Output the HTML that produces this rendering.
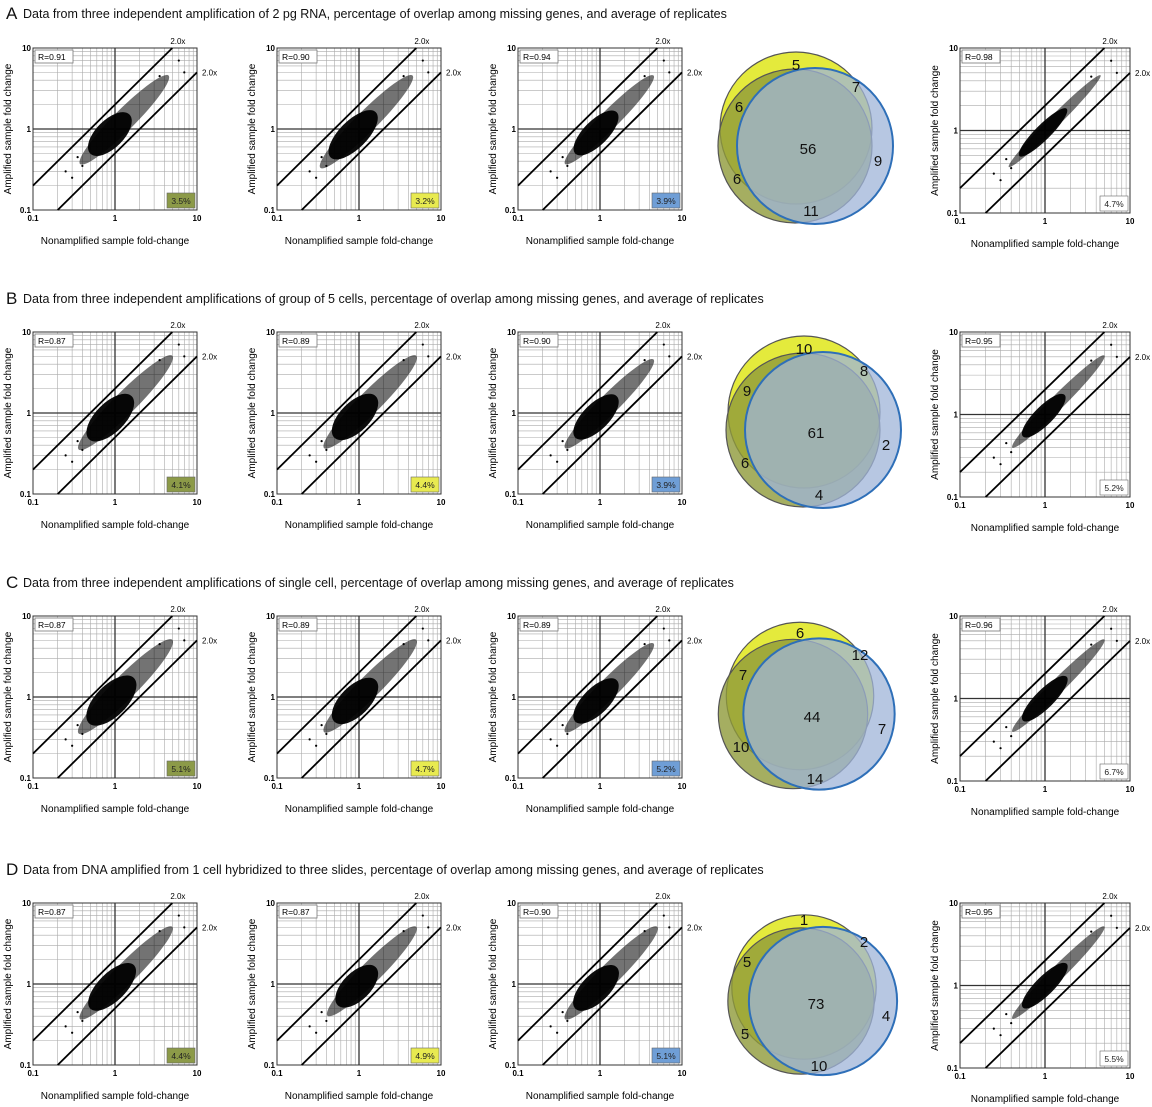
<!DOCTYPE html>
<html><head><meta charset="utf-8"><style>
html,body{margin:0;padding:0;background:#fff;}
svg{display:block;font-family:"Liberation Sans",Arial,sans-serif;}
</style></head><body>
<svg id="fig" width="1152" height="1107" viewBox="0 0 1152 1107" xmlns="http://www.w3.org/2000/svg">
<g fill="#111">
<text x="6" y="19" font-size="17">A</text>
<text x="23" y="18" font-size="12.5">Data from three independent amplification of 2 pg RNA, percentage of overlap among missing genes, and average of replicates</text>
<text x="6" y="304" font-size="17">B</text>
<text x="23" y="303" font-size="12.5">Data from three independent amplifications of group of 5 cells, percentage of overlap among missing genes, and average of replicates</text>
<text x="6" y="588" font-size="17">C</text>
<text x="23" y="587" font-size="12.5">Data from three independent amplifications of single cell, percentage of overlap among missing genes, and average of replicates</text>
<text x="6" y="875" font-size="17">D</text>
<text x="23" y="874" font-size="12.5">Data from DNA amplified from 1 cell hybridized to three slides, percentage of overlap among missing genes, and average of replicates</text>
</g>
</svg>
<script>
// ---- data ----
const rValues = [["0.91","0.90","0.94","0.98"],["0.87","0.89","0.90","0.95"],["0.87","0.89","0.89","0.96"],["0.87","0.87","0.90","0.95"]];
const pctValues = [["3.5%","3.2%","3.9%","4.7%"],["4.1%","4.4%","3.9%","5.2%"],["5.1%","4.7%","5.2%","6.7%"],["4.4%","4.9%","5.1%","5.5%"]];
// dense-core extent (x fold-change), tail extent, spread (decades)
const coreLo = [[0.5,0.45,0.5,0.5],[0.48,0.5,0.5,0.55],[0.48,0.5,0.5,0.55],[0.5,0.55,0.5,0.55]];
const coreHi = [[1.5,1.6,1.6,1.8],[1.6,1.6,1.6,1.7],[1.7,1.6,1.6,1.8],[1.7,1.6,1.6,1.8]];
const tailHi = [[4.5,4.5,4.5,4.5],[5,5,4.5,5],[5,5,4.5,5],[5,5,5,5]];
const spread = [[0.17,0.17,0.15,0.09],[0.18,0.18,0.16,0.11],[0.19,0.18,0.16,0.11],[0.17,0.17,0.17,0.11]];
const outX = [0.3,0.35,0.4,0.25,6,7,3.5];
const outY = [0.25,0.45,0.35,0.3,7,5,4.5];
const vennTop = [5,10,6,1], vennLeft=[6,9,7,5], vennLeftLow=[6,6,10,5], vennRight=[7,8,12,2], vennRightLow=[9,2,7,4], vennBottom=[11,4,14,10], vennCenter=[56,61,44,73];

// ---- layout ----
const colX=[33,277,518,960], colW=[164,164,164,170];
const rowY=[48,332,616,903], plotH=[162,162,162,165];
const NS='http://www.w3.org/2000/svg';
const svg=document.getElementById('fig');
function el(tag,attrs,parent){const e=document.createElementNS(NS,tag);for(const k in attrs)e.setAttribute(k,attrs[k]);(parent||svg).appendChild(e);return e;}
const badgeFill=['#8c9a48','#e8ea50','#6f9ed6','#ffffff'];

for(let r=0;r<4;r++){
 for(let c=0;c<4;c++){
  const x0=colX[c], w=colW[c], y0=rowY[r], h=(c===3?plotH[1]+3:plotH[1]);
  const sx=v=>x0+(Math.log10(v)+1)/2*w;
  const sy=v=>y0+h-(Math.log10(v)+1)/2*h;
  const g=el('g',{});
  
  
  const cid='clip'+r+c;
  const cp=el('clipPath',{id:cid},g);el('rect',{x:x0,y:y0,width:w,height:h},cp);
  // grid
  for(let d=-1;d<1;d++)for(let m=1;m<10;m++){
   const v=m*Math.pow(10,d); if(v===0.1||v===1)continue;
   el('line',{x1:sx(v),x2:sx(v),y1:y0,y2:y0+h,stroke:'#aaa','stroke-width':0.6},g);
   el('line',{x1:x0,x2:x0+w,y1:sy(v),y2:sy(v),stroke:'#aaa','stroke-width':0.6},g);
  }
  el('line',{x1:sx(1),x2:sx(1),y1:y0,y2:y0+h,stroke:'#333','stroke-width':1.3},g);
  el('line',{x1:x0,x2:x0+w,y1:sy(1),y2:sy(1),stroke:'#333','stroke-width':1.3},g);
  el('rect',{x:x0,y:y0,width:w,height:h,fill:'none',stroke:'#333','stroke-width':1},g);
  // cloud
  const cg=el('g',{'clip-path':'url(#'+cid+')'},g);
  const mk=(lo,hi,sp,op)=>{
    const a=Math.log10(lo),b=Math.log10(hi);const cx=(a+b)/2, half=(b-a)/2;
    const px=sx(Math.pow(10,cx)), py=sy(Math.pow(10,cx));
    const dpx=w/2, rx=half*Math.SQRT2*dpx, ry=sp*dpx;
    const e=el('ellipse',{cx:px,cy:py,rx:rx,ry:ry,fill:'#000','fill-opacity':op,transform:'rotate(-45 '+px+' '+py+')'},cg);
    return e;
  };
  const tl=mk(coreLo[r][c]*0.75,tailHi[r][c],spread[r][c]*0.75,0.55);
  
  
  const co=mk(coreLo[r][c],coreHi[r][c],spread[r][c],0.95);
  
  
  for(let i=0;i<outX.length;i++){
   const p=el('circle',{cx:sx(outX[i]),cy:sy(outY[i]),r:1.1,fill:'#000'},cg);
   
   
  }
  // 2x lines
  el('line',{x1:sx(0.1),y1:sy(0.2),x2:sx(5),y2:sy(10),stroke:'#000','stroke-width':1.8},g);
  el('line',{x1:sx(0.2),y1:sy(0.1),x2:sx(10),y2:sy(5),stroke:'#000','stroke-width':1.8},g);
  el('text',{x:sx(5)-2,y:y0-4,'font-size':8},g).textContent='2.0x';
  el('text',{x:x0+w+5,y:sy(5)+3,'font-size':8},g).textContent='2.0x';
  // ticks labels
  [[0.1,'0.1'],[1,'1'],[10,'10']].forEach(([v,t])=>{
   el('text',{x:sx(v),y:y0+h+11,'font-size':8,'font-weight':'bold','text-anchor':'middle'},g).textContent=t;
   el('text',{x:x0-2,y:sy(v)+3,'font-size':8,'font-weight':'bold','text-anchor':'end'},g).textContent=t;
  });
  const xl=el('text',{x:x0+w/2,y:y0+h+34,'font-size':10,'text-anchor':'middle'},g);xl.textContent='Nonamplified sample fold-change';
  
  
  const yl=el('text',{x:0,y:0,'font-size':10,'text-anchor':'middle',transform:'translate('+(x0-22)+','+(y0+h/2)+') rotate(-90)'},g);yl.textContent='Amplified sample fold change';
  
  
  // R box
  el('rect',{x:x0+2,y:y0+2,width:38,height:13,fill:'#fff',stroke:'#777','stroke-width':0.8},g);
  el('text',{x:x0+5,y:y0+12,'font-size':8.5},g).textContent='R='+rValues[r][c];
  // pct badge
  const bx=x0+w-30,by=y0+h-17;
  el('rect',{x:bx,y:by,width:28,height:15,fill:badgeFill[c],stroke:'#666','stroke-width':0.6},g);
  el('text',{x:bx+14,y:by+11,'font-size':8.5,'text-anchor':'middle',fill:'#222'},g).textContent=pctValues[r][c];
 }
 // venn
 const vy=rowY[r]-48;
 const sc=[1,1,0.97,0.95][r];
 const vg=el('g',{});
 
 
 const ox=[0,8,4,8][r];
 el('circle',{cx:796+ox,cy:128+vy+[0,0,0,4][r],r:76*sc,fill:'#e4ea3c',stroke:'#555','stroke-width':1.2},vg);
 el('circle',{cx:795+ox-([0,0,6,2][r]),cy:146+vy,r:77*sc,fill:'#8e9a3a','fill-opacity':0.8,stroke:'#555','stroke-width':1.2},vg);
 el('circle',{cx:815+ox,cy:146+vy,r:78*sc,fill:'#9fb4d8','fill-opacity':0.75,stroke:'#2e6fb8','stroke-width':2},vg);
 const cxb=796+ox, cyb=146+vy;
 const lbl=[[vennTop,0,-76],[vennLeft,-57,-34],[vennLeftLow,-59,38],[vennRight,60,-54],[vennRightLow,82,20],[vennBottom,15,70],[vennCenter,12,8]];
 lbl.forEach(([arr,dx,dy])=>{el('text',{x:cxb+dx,y:cyb+dy,'font-size':15,'text-anchor':'middle',fill:'#111'},vg).textContent=arr[r];});
}
</script>
</body></html>
